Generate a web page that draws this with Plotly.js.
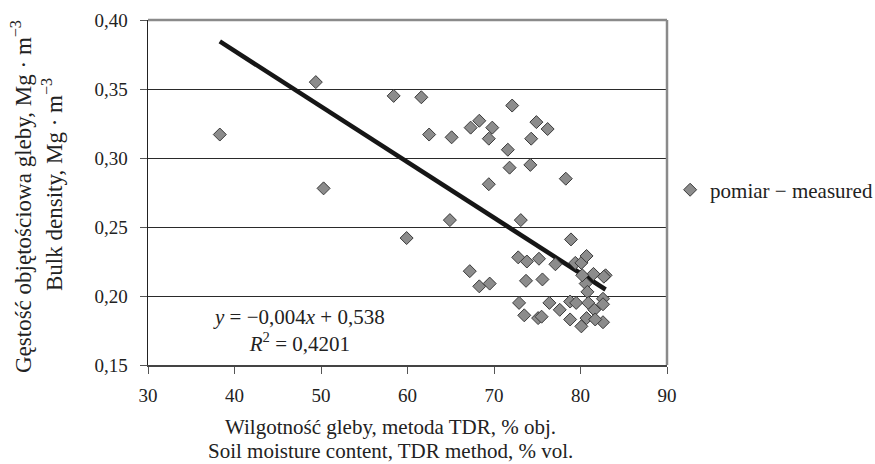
<!DOCTYPE html>
<html>
<head>
<meta charset="utf-8">
<script src="https://cdn.plot.ly/plotly-3.0.1.min.js"></script>
<style>html,body{margin:0;padding:0;background:#fff;}</style>
</head>
<body>
<div id="chart" style="width:875px;height:464px;"></div>
<script>
// Soil moisture content (TDR), % vol.
const moisture = [38.3, 49.4, 50.3, 58.4, 61.6, 62.5, 59.9, 65.1, 64.9, 67.3, 68.3, 69.8, 69.4, 69.4, 72.1, 71.6, 71.8, 73.1, 74.9, 76.2, 74.3, 74.2, 78.3, 78.9, 67.2, 68.3, 69.5, 72.8, 73.8, 75.2, 77.1, 73.7, 75.6, 72.9, 73.5, 75.1, 75.5, 76.4, 77.6, 78.8, 78.8, 79.5, 79.4, 80.1, 80.7, 81.5, 82.9, 82.7, 80.6, 80.2, 80.8, 82.6, 80.9, 81.6, 82.6, 80.7, 80.1, 82.6, 81.7];
// Bulk density, Mg m-3
const density = [0.317, 0.355, 0.278, 0.345, 0.344, 0.317, 0.242, 0.315, 0.255, 0.322, 0.327, 0.322, 0.314, 0.281, 0.338, 0.306, 0.293, 0.255, 0.326, 0.321, 0.314, 0.295, 0.285, 0.241, 0.218, 0.207, 0.209, 0.228, 0.225, 0.227, 0.223, 0.211, 0.212, 0.195, 0.186, 0.184, 0.185, 0.195, 0.190, 0.183, 0.196, 0.195, 0.224, 0.224, 0.229, 0.216, 0.215, 0.214, 0.209, 0.215, 0.203, 0.198, 0.195, 0.190, 0.194, 0.184, 0.178, 0.181, 0.183];
const trendSlope = -0.00403;
const trendIntercept = 0.5388;
const xTicks = [30, 40, 50, 60, 70, 80, 90];
const yTicks = [0.15, 0.20, 0.25, 0.30, 0.35, 0.40];

const serif = '"Liberation Serif", "Times New Roman", Times, serif';
const xmin = Math.min(...moisture), xmax = Math.max(...moisture);
const trendX = [xmin, xmax];
const trendY = trendX.map(v => trendSlope * v + trendIntercept);

const traces = [
  {
    x: trendX, y: trendY, mode: 'lines', type: 'scatter',
    line: {color: '#161616', width: 4.5}, showlegend: false, hoverinfo: 'skip'
  },
  {
    x: moisture, y: density, mode: 'markers', type: 'scatter',
    name: 'pomiar − measured',
    marker: {symbol: 'diamond', size: 10, color: '#8c8c8c', line: {color: '#3a3a3a', width: 1}}
  }
];

const layout = {
  width: 875, height: 464,
  margin: {l: 148, r: 208, t: 20, b: 99, autoexpand: false},
  paper_bgcolor: '#fff', plot_bgcolor: '#fff',
  separators: ', ',
  font: {family: serif, size: 20, color: '#222'},
  showlegend: true,
  legend: {x: 1.006, xanchor: 'left', y: 0.507, yanchor: 'middle', font: {family: serif, size: 21, color: '#222'}, bgcolor: 'rgba(0,0,0,0)', borderwidth: 0},
  xaxis: {
    range: [30, 90], tickvals: xTicks, ticks: 'outside', ticklen: 7, tickcolor: '#555', tickwidth: 1,
    showline: true, linecolor: '#444', linewidth: 1.5, showgrid: false, zeroline: false,
    tickfont: {family: serif, size: 19, color: '#222'}, ticklabelstandoff: 6
  },
  yaxis: {
    range: [0.15, 0.40], tickvals: yTicks, tickformat: '.2f', ticks: 'outside', ticklen: 7, tickcolor: '#555', tickwidth: 1,
    showline: true, linecolor: '#222', linewidth: 1.5, showgrid: true, gridcolor: '#2a2a2a', gridwidth: 1, zeroline: false,
    tickfont: {family: serif, size: 19, color: '#222'}, ticklabelstandoff: 8
  },
  shapes: [
    {type: 'line', xref: 'paper', yref: 'paper', x0: 0, x1: 1, y0: 1, y1: 1, line: {color: '#8a8a8a', width: 2.5}},
    {type: 'line', xref: 'paper', yref: 'paper', x0: 1, x1: 1, y0: 0, y1: 1, line: {color: '#8a8a8a', width: 2.5}}
  ],
  annotations: [
    {xref: 'x', yref: 'y', x: 47.4, y: 0.175, xanchor: 'center', yanchor: 'middle', showarrow: false, align: 'center',
     text: '<i>y</i> = −0,004<i>x</i> + 0,538<br><i>R</i><sup>2</sup> = 0,4201', font: {family: serif, size: 21, color: '#222'}},
    {xref: 'paper', yref: 'paper', x: (390 - 148) / 519, y: (365 - 427) / 345, xanchor: 'center', yanchor: 'middle', showarrow: false,
     text: 'Wilgotność gleby, metoda TDR, % obj.', font: {family: serif, size: 21, color: '#222'}},
    {xref: 'paper', yref: 'paper', x: (390 - 148) / 519, y: (365 - 451) / 345, xanchor: 'center', yanchor: 'middle', showarrow: false,
     text: 'Soil moisture content, TDR method, % vol.', font: {family: serif, size: 21, color: '#222'}},
    {xref: 'paper', yref: 'paper', x: (22 - 148) / 519, y: (365 - 197) / 345, xanchor: 'center', yanchor: 'middle', showarrow: false, textangle: -90,
     text: 'Gęstość objętościowa gleby, Mg · m<sup>−3</sup>', font: {family: serif, size: 23, color: '#222'}},
    {xref: 'paper', yref: 'paper', x: (52 - 148) / 519, y: (365 - 185) / 345, xanchor: 'center', yanchor: 'middle', showarrow: false, textangle: -90,
     text: 'Bulk density, Mg · m<sup>−3</sup>', font: {family: serif, size: 23, color: '#222'}}
  ]
};

Plotly.newPlot('chart', traces, layout, {displayModeBar: false, staticPlot: true});
</script>
</body>
</html>
